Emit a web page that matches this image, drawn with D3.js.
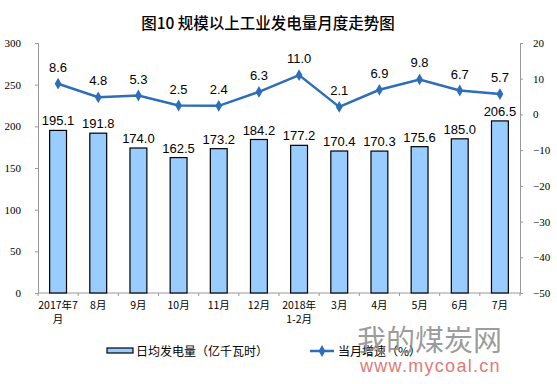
<!DOCTYPE html>
<html>
<head>
<meta charset="utf-8">
<script src="https://cdn.jsdelivr.net/npm/d3@7"></script>
<style>
  body { margin: 0; background: #fff; }
  svg { display: block; }
</style>
</head>
<body>
<svg id="chart" width="557" height="384"></svg>
<script>
// month labels, two lines each where the original wraps
var months = [["2017年7", "月"], ["8月"], ["9月"], ["10月"], ["11月"], ["12月"],
              ["2018年", "1-2月"], ["3月"], ["4月"], ["5月"], ["6月"], ["7月"]];
var dailyOutput = [195.1, 191.8, 174.0, 162.5, 173.2, 184.2, 177.2, 170.4, 170.3, 175.6, 185.0, 206.5];
var growth = [8.6, 4.8, 5.3, 2.5, 2.4, 6.3, 11.0, 2.1, 6.9, 9.8, 6.7, 5.7];
var leftTicks = [0, 50, 100, 150, 200, 250, 300];
var rightTicks = [20, 10, 0, -10, -20, -30, -40, -50];

var svg = d3.select("#chart");
var plotLeft = 38, plotRight = 520, plotTop = 43, plotBottom = 293;

var x = d3.scaleBand().domain(d3.range(months.length)).range([plotLeft, plotRight]).paddingInner(0.58).paddingOuter(0.29);
var xb = d3.scaleBand().domain(d3.range(months.length)).range([plotLeft, plotRight]);
var yL = d3.scaleLinear().domain([0, 300]).range([plotBottom, plotTop]);
var yR = d3.scaleLinear().domain([-50, 20]).range([plotBottom, plotTop]);
var cx = function (d, i) { return xb(i) + xb.bandwidth() / 2; };

svg.append("text")
  .attr("x", 268).attr("y", 29)
  .attr("text-anchor", "middle")
  .style("font-family", "'Noto Sans CJK SC', sans-serif")
  .style("font-size", "15.5px").style("font-weight", "500")
  .text("图10  规模以上工业发电量月度走势图");

var tickFont = function (sel) {
  sel.selectAll("text")
    .style("font-family", "'Liberation Serif', serif")
    .style("font-size", "11px").attr("fill", "#000");
  sel.selectAll("line, path").attr("stroke", "#999");
};

svg.append("g")
  .attr("transform", "translate(" + plotLeft + ",0)")
  .call(d3.axisLeft(yL).tickValues(leftTicks).tickSize(3).tickSizeOuter(3).tickPadding(14))
  .call(tickFont);

svg.append("g")
  .attr("transform", "translate(" + plotRight + ",0)")
  .call(d3.axisRight(yR).tickValues(rightTicks).tickSize(3).tickSizeOuter(3).tickPadding(10))
  .call(tickFont);

// bottom baseline with ticks at band edges
svg.append("line")
  .attr("x1", plotLeft).attr("x2", plotRight).attr("y1", plotBottom).attr("y2", plotBottom)
  .attr("stroke", "#999");
svg.selectAll(".btick").data(d3.range(months.length + 1)).enter().append("line")
  .attr("x1", function (i) { return plotLeft + i * xb.bandwidth(); })
  .attr("x2", function (i) { return plotLeft + i * xb.bandwidth(); })
  .attr("y1", plotBottom).attr("y2", plotBottom + 3)
  .attr("stroke", "#999");

var xl = svg.selectAll(".xl").data(months).enter().append("text")
  .attr("x", cx)
  .attr("y", 309)
  .attr("text-anchor", "middle")
  .style("font-family", "'Noto Sans CJK SC', serif")
  .style("font-size", "10.5px");
xl.selectAll("tspan").data(function (d) { return d; }).enter().append("tspan")
  .attr("x", function () { return d3.select(this.parentNode).attr("x"); })
  .attr("dy", function (d, i) { return i ? 14 : 0; })
  .text(function (d) { return d; });

svg.selectAll(".bar").data(dailyOutput).enter().append("rect")
  .attr("x", function (d, i) { return x(i); })
  .attr("y", function (d) { return yL(d); })
  .attr("width", x.bandwidth())
  .attr("height", function (d) { return plotBottom - yL(d); })
  .attr("fill", "#99ccff").attr("stroke", "#000").attr("stroke-width", 1.2);

var labelStyle = function (sel) {
  sel.attr("text-anchor", "middle")
    .style("font-family", "'Liberation Sans', Arial, sans-serif")
    .style("font-size", "13px").attr("fill", "#000");
};

svg.selectAll(".bl").data(dailyOutput).enter().append("text")
  .attr("x", cx)
  .attr("y", function (d) { return yL(d) - 5; })
  .text(function (d) { return d.toFixed(1); })
  .call(labelStyle);

var line = d3.line().x(cx).y(function (d) { return yR(d); });

svg.append("path").datum(growth)
  .attr("d", line).attr("fill", "none")
  .attr("stroke", "#2e6db8").attr("stroke-width", 2.5);

svg.selectAll(".mk").data(growth).enter().append("path")
  .attr("d", d3.symbol(d3.symbolDiamond, 40))
  .attr("transform", function (d, i) { return "translate(" + cx(d, i) + "," + yR(d) + ")"; })
  .attr("fill", "#2e6db8");

svg.selectAll(".gl").data(growth).enter().append("text")
  .attr("x", cx)
  .attr("y", function (d) { return yR(d) - 12; })
  .text(function (d) { return d.toFixed(1); })
  .call(labelStyle);

// legend
var lg = svg.append("g");
lg.append("rect").attr("x", 107).attr("y", 348).attr("width", 26).attr("height", 5)
  .attr("fill", "#99ccff").attr("stroke", "#000").attr("stroke-width", 1.2);
lg.append("text").attr("x", 136).attr("y", 356)
  .style("font-family", "'Noto Sans CJK SC', sans-serif").style("font-size", "12px")
  .text("日均发电量（亿千瓦时）");
lg.append("line").attr("x1", 310).attr("x2", 334).attr("y1", 351).attr("y2", 351)
  .attr("stroke", "#2e6db8").attr("stroke-width", 2.5);
lg.append("path").attr("d", d3.symbol(d3.symbolDiamond, 40))
  .attr("transform", "translate(322,351)").attr("fill", "#2e6db8");
lg.append("text").attr("x", 338).attr("y", 356)
  .style("font-family", "'Noto Sans CJK SC', sans-serif").style("font-size", "12px")
  .text("当月增速（%）");

// watermark
var wm = svg.append("g");
wm.append("text").attr("x", 357).attr("y", 351)
  .style("font-family", "'Noto Sans CJK SC', sans-serif").style("font-size", "29px")
  .attr("fill", "#8a8a8a").attr("fill-opacity", 0.85)
  .text("我的煤炭网");
wm.append("text").attr("x", 360).attr("y", 372)
  .style("font-family", "'Liberation Sans', sans-serif").style("font-size", "18px")
  .attr("fill", "#e07a7a").attr("letter-spacing", "1.3px")
  .text("www.mycoal.cn");
</script>
</body>
</html>
